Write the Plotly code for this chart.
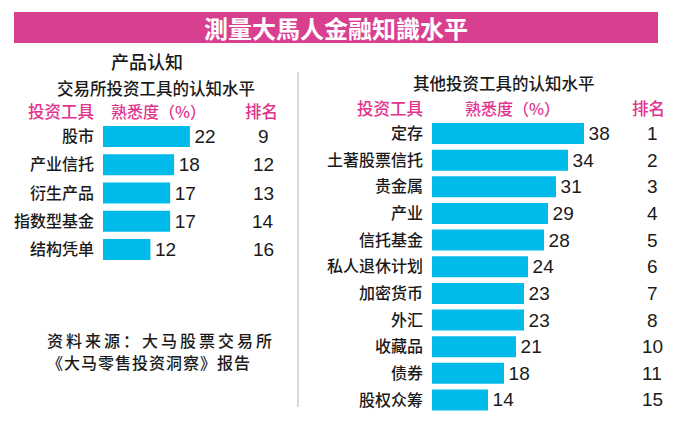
import plotly.graph_objects as go

# ---- data ----
left_title = "产品认知"
left_subtitle = "交易所投资工具的认知水平"
left_tools = ["股市", "产业信托", "衍生产品", "指数型基金", "结构凭单"]
left_values = [22, 18, 17, 17, 12]
left_ranks = [9, 12, 13, 14, 16]

right_subtitle = "其他投资工具的认知水平"
right_tools = ["定存", "土著股票信托", "贵金属", "产业", "信托基金", "私人退休计划",
               "加密货币", "外汇", "收藏品", "债券", "股权众筹"]
right_values = [38, 34, 31, 29, 28, 24, 23, 23, 21, 18, 14]
right_ranks = [1, 2, 3, 4, 5, 6, 7, 8, 10, 11, 15]

headers = ["投资工具", "熟悉度（%）", "排名"]
main_title = "測量大馬人金融知識水平"
source_lines = ["资料来源：大马股票交易所", "《大马零售投资洞察》报告"]

# ---- style ----
W, H = 697, 443
OFF = 8  # page body margin
CJK = "Noto Sans CJK SC"
NUM = "Liberation Sans, Arial"
BAR = "#00BBEA"
PINK = "#E2338E"
TITLE_BG = "#D8408F"
INK = "#1a1a1a"
WT = 500

def px(x):
    return (x - OFF) / W

def py(y):
    return 1 - (y - OFF) / H

fig = go.Figure()

fig.add_trace(go.Bar(
    x=left_values, y=left_tools, orientation="h", width=0.743,
    marker=dict(color=BAR, line=dict(width=0)),
    text=["\u200a" + str(v) for v in left_values], textposition="outside",
    textfont=dict(family=NUM, size=19, color=INK), constraintext="none",
    cliponaxis=False, xaxis="x", yaxis="y", hoverinfo="skip",
))
fig.add_trace(go.Bar(
    x=right_values, y=right_tools, orientation="h", width=0.788,
    marker=dict(color=BAR, line=dict(width=0)),
    text=["\u200a" + str(v) for v in right_values], textposition="outside",
    textfont=dict(family=NUM, size=19, color=INK), constraintext="none",
    cliponaxis=False, xaxis="x2", yaxis="y2", hoverinfo="skip",
))

axis_common_y = dict(showgrid=False, zeroline=False, showline=False, ticks="",
                     tickfont=dict(family=CJK, size=16, color=INK, weight=WT),
                     autorange="reversed", ticklabelstandoff=8)
fig.update_layout(
    width=W, height=H, autosize=False,
    margin=dict(l=0, r=0, t=0, b=0),
    paper_bgcolor="white", plot_bgcolor="white",
    showlegend=False,
    xaxis=dict(domain=[px(103), px(261)], range=[0, 40], visible=False),
    yaxis=dict(domain=[py(263.6), py(122.4)], anchor="x", **axis_common_y),
    xaxis2=dict(domain=[px(432), px(592)], range=[0, 40], visible=False, anchor="y2"),
    yaxis2=dict(domain=[py(413.3), py(120.2)], anchor="x2", **axis_common_y),
)

annotations = []

def ann(text, x, y, size=16, color=INK, xanchor="center", family=CJK, xref="paper",
        yref="paper", weight=WT):
    annotations.append(dict(text=text, x=x, y=y, xref=xref, yref=yref, showarrow=False,
                            xanchor=xanchor, yanchor="middle",
                            font=dict(family=family, size=size, color=color, weight=weight)))

# title
ann("<b>" + main_title + "</b>", px(336), py(28), size=24, color="white",
    family="Noto Sans CJK TC", weight=700)

# left panel headings
ann(left_title, px(147), py(61), size=18)
ann(left_subtitle, px(155.5), py(88), size=16.5)
ann(headers[0], px(61), py(111), size=16.5, color=PINK)
ann(headers[1], px(109), py(111), size=16, color=PINK, xanchor="left")
ann(headers[2], px(261.5), py(111), size=16.5, color=PINK)

# right panel headings
ann(right_subtitle, px(504), py(83), size=16.5)
ann(headers[0], px(390), py(108), size=16.5, color=PINK)
ann(headers[1], px(463), py(108), size=16, color=PINK, xanchor="left")
ann(headers[2], px(648.5), py(108), size=16.5, color=PINK)

# rank columns
for t, r in zip(left_tools, left_ranks):
    ann(str(r), px(263), t, size=19, family=NUM, yref="y", weight=400)
for t, r in zip(right_tools, right_ranks):
    ann(str(r), px(652), t, size=19, family=NUM, yref="y2", weight=400)

# source
ann('<span style="letter-spacing:3px">' + source_lines[0] + '</span>', px(45), py(340),
    size=16, xanchor="left")
ann('<span style="letter-spacing:1px">' + source_lines[1] + '</span>', px(45), py(362),
    size=16, xanchor="left")

fig.update_layout(annotations=annotations)

fig.update_layout(shapes=[
    dict(type="rect", xref="paper", yref="paper", x0=px(14), x1=px(658), y0=py(43), y1=py(12),
         fillcolor=TITLE_BG, line=dict(width=0), layer="below"),
    dict(type="line", xref="paper", yref="paper", x0=px(298), x1=px(298), y0=py(407), y1=py(72),
         line=dict(color="#b3b3b3", width=1)),
])

fig.write_html("out.html")
